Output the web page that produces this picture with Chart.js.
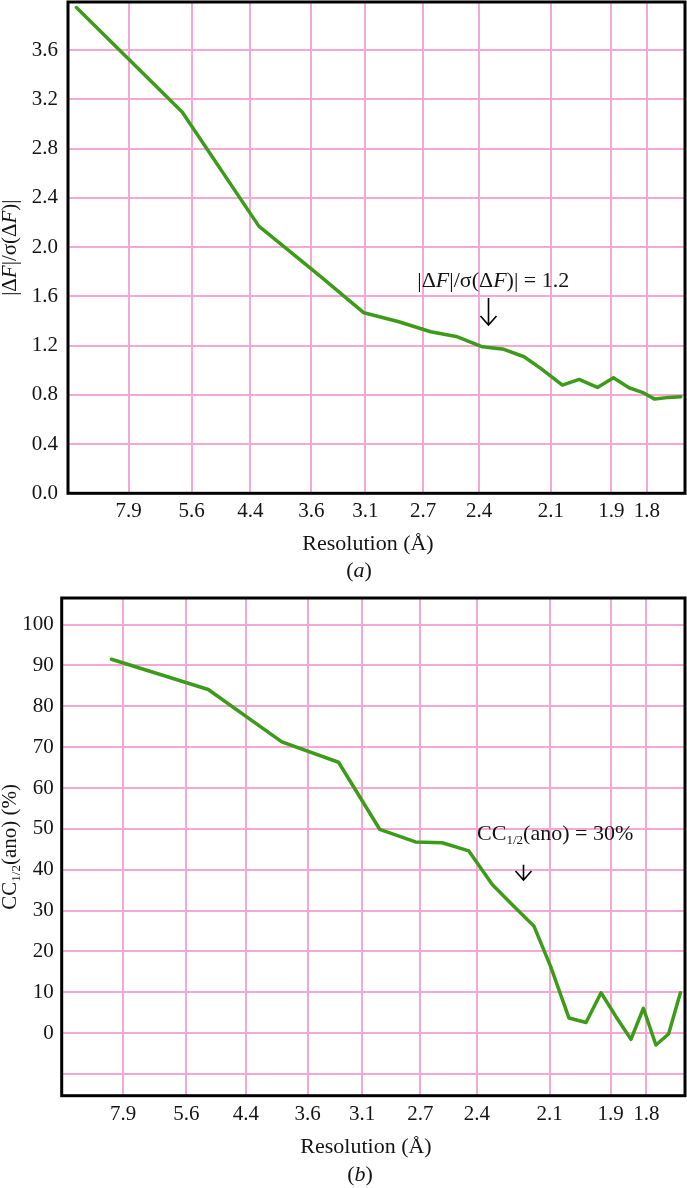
<!DOCTYPE html>
<html>
<head>
<meta charset="utf-8">
<script src="https://cdn.jsdelivr.net/npm/chart.js@4.4.1/dist/chart.umd.min.js"></script>
<style>
  html, body { margin: 0; padding: 0; background: #fff; }
  canvas { display: block; }
</style>
</head>
<body>
<canvas id="chartA" width="687" height="590"></canvas>
<canvas id="chartB" width="687" height="598"></canvas>
<script>
/* ---------- data ---------- */

// x axis: resolution in Å, plotted linearly in 1/d
const tickRes = [7.9, 5.6, 4.4, 3.6, 3.1, 2.7, 2.4, 2.1, 1.9, 1.8];
const tickLabels = ["7.9", "5.6", "4.4", "3.6", "3.1", "2.7", "2.4", "2.1", "1.9", "1.8"];

// panel (a): |ΔF|/σ(ΔF)
const resA = [12.01, 5.854, 4.268, 3.511, 3.112, 2.855, 2.655, 2.508, 2.384, 2.287, 2.203,
              2.138, 2.059, 2.002, 1.943, 1.894, 1.849, 1.812, 1.779, 1.742, 1.713];
const ratioA = [3.945, 3.097, 2.170, 1.765, 1.466, 1.393, 1.312, 1.271, 1.190, 1.169, 1.109,
                1.015, 0.879, 0.925, 0.860, 0.938, 0.857, 0.820, 0.765, 0.779, 0.784];
const yTicksA = [0, 0.4, 0.8, 1.2, 1.6, 2.0, 2.4, 2.8, 3.2, 3.6];

// panel (b): CC1/2(ano) in %
const resB = [8.543, 5.091, 3.895, 3.298, 2.968, 2.730, 2.576, 2.439, 2.329, 2.240, 2.158,
              2.096, 2.032, 1.976, 1.929, 1.885, 1.842, 1.808, 1.775, 1.743, 1.714];
const ccB = [91.5, 84.1, 71.3, 66.3, 49.9, 46.8, 46.6, 44.6, 36.3, 31.2, 26.2,
             16.3, 3.7, 2.6, 9.9, 4.1, -1.5, 6.1, -2.9, -0.2, 9.9];
const yTicksB = [-10, 0, 10, 20, 30, 40, 50, 60, 70, 80, 90, 100];

/* ---------- style ---------- */

const serif = "'Liberation Serif', 'Times New Roman', serif";
const green = "#3c9c19";
const pink = "#f5a8d6";
const ink = "#141414";
const xMin = 0.0763, xMax = 0.5872;

Chart.defaults.font.family = serif;
Chart.defaults.color = ink;

function fontOf(style, size) {
    if (style === "i") return "italic " + size + "px " + serif;
    if (style === "sub") return Math.round(size * 0.6) + "px " + serif;
    return size + "px " + serif;
}

// draw a run of text pieces with italic / subscript parts
function richText(ctx, parts, x, y, size) {
    const w = parts.map(p => { ctx.font = fontOf(p[1], size); return ctx.measureText(p[0]).width; });
    let cx = x - w.reduce((a, b) => a + b, 0) / 2;
    ctx.textAlign = "left";
    ctx.textBaseline = "alphabetic";
    parts.forEach((p, i) => {
        ctx.font = fontOf(p[1], size);
        ctx.fillText(p[0], cx, p[1] === "sub" ? y + size * 0.2 : y);
        cx += w[i];
    });
}

const decorPlugin = {
    id: "decor",
    afterDraw(chart, args, o) {
        const ctx = chart.ctx, a = chart.chartArea;
        const xs = chart.scales.x, ys = chart.scales.y;
        ctx.save();
        ctx.fillStyle = ink;
        ctx.strokeStyle = "#000";

        // black frame
        ctx.lineWidth = 3;
        ctx.strokeRect(a.left, a.top, a.right - a.left, a.bottom - a.top);

        // y title (rotated)
        ctx.save();
        ctx.translate(16, (a.top + a.bottom) / 2);
        ctx.rotate(-Math.PI / 2);
        richText(ctx, o.yTitle, 0, 0, 21);
        ctx.restore();

        // x title and panel caption
        richText(ctx, [["Resolution (Å)", ""]], o.titleX, a.bottom + 57, 22);
        richText(ctx, [["(", ""], [o.panel, "i"], [")", ""]], o.captionX, a.bottom + o.captionDy, 22);

        // threshold note with arrow
        const n = o.note;
        richText(ctx, n.text, xs.getPixelForValue(1 / n.textRes), ys.getPixelForValue(n.textY), 22);
        const ax = Math.round(xs.getPixelForValue(1 / n.arrowRes)) + 0.5;
        const y0 = ys.getPixelForValue(n.arrowFrom), y1 = ys.getPixelForValue(n.arrowTo);
        ctx.lineWidth = 1.6;
        ctx.beginPath();
        ctx.moveTo(ax, y0);
        ctx.lineTo(ax, y1);
        ctx.moveTo(ax - 8, y1 - 9);
        ctx.lineTo(ax, y1);
        ctx.lineTo(ax + 8, y1 - 9);
        ctx.stroke();
        ctx.restore();
    }
};

function makeChart(id, res, vals, y, decor) {
    return new Chart(document.getElementById(id), {
        type: "line",
        data: {
            datasets: [{
                data: res.map((r, i) => ({ x: 1 / r, y: vals[i] })),
                borderColor: green,
                borderWidth: 3.5,
                borderJoinStyle: "round",
                borderCapStyle: "round",
                pointRadius: 0,
                tension: 0
            }]
        },
        options: {
            responsive: false,
            animation: false,
            layout: { padding: { top: y.top, right: 2, left: 0, bottom: 0 } },
            plugins: {
                legend: { display: false },
                tooltip: { enabled: false },
                decor: decor
            },
            scales: {
                x: {
                    type: "linear",
                    min: xMin,
                    max: xMax,
                    afterBuildTicks: s => { s.ticks = tickRes.map(r => ({ value: 1 / r })); },
                    afterFit: s => {
                        s.height = y.xHeight;
                        s.paddingLeft = 0;
                        s.paddingRight = 0;
                    },
                    ticks: {
                        callback: (v, i) => tickLabels[i],
                        font: { size: 21 },
                        color: ink,
                        padding: 6,
                        maxRotation: 0,
                        autoSkip: false
                    },
                    grid: { color: pink, lineWidth: 2, drawTicks: false },
                    border: { display: false }
                },
                y: {
                    type: "linear",
                    min: y.min,
                    max: y.max,
                    afterBuildTicks: s => { s.ticks = y.ticks.map(v => ({ value: v })); },
                    afterFit: s => {
                        s.width = y.width;
                        s.paddingTop = 0;
                        s.paddingBottom = 0;
                    },
                    ticks: {
                        callback: y.fmt,
                        font: { size: 21 },
                        color: ink,
                        padding: y.pad
                    },
                    grid: { color: pink, lineWidth: 2, drawTicks: false },
                    border: { display: false }
                }
            }
        },
        plugins: [decorPlugin]
    });
}

/* ---------- panel (a) ---------- */
makeChart("chartA", resA, ratioA, {
    min: 0, max: 3.99, ticks: yTicksA, fmt: v => v.toFixed(1),
    width: 68, pad: 10, top: 2, xHeight: 96.7
}, {
    yTitle: [["|Δ", ""], ["F", "i"], ["|/σ(Δ", ""], ["F", "i"], [")|", ""]],
    panel: "a", titleX: 368, captionX: 359, captionDy: 84,
    note: {
        text: [["|Δ", ""], ["F", "i"], ["|/σ(Δ", ""], ["F", "i"], [")| = 1.2", ""]],
        textRes: 2.334, textY: 1.675,
        arrowRes: 2.356, arrowFrom: 1.586, arrowTo: 1.367
    }
});

/* ---------- panel (b) ---------- */
makeChart("chartB", resB, ccB, {
    min: -15.3, max: 106.5, ticks: yTicksB, fmt: v => (v < 0 ? "" : String(v)),
    width: 61.7, pad: 8, top: 8, xHeight: 92.3
}, {
    yTitle: [["CC", ""], ["1/2", "sub"], ["(ano) (%)", ""]],
    panel: "b", titleX: 366, captionX: 360, captionDy: 85,
    note: {
        text: [["CC", ""], ["1/2", "sub"], ["(ano) = 30%", ""]],
        textRes: 2.080, textY: 47.3,
        arrowRes: 2.2025, arrowFrom: 41.2, arrowTo: 37.5
    }
});
</script>
</body>
</html>
